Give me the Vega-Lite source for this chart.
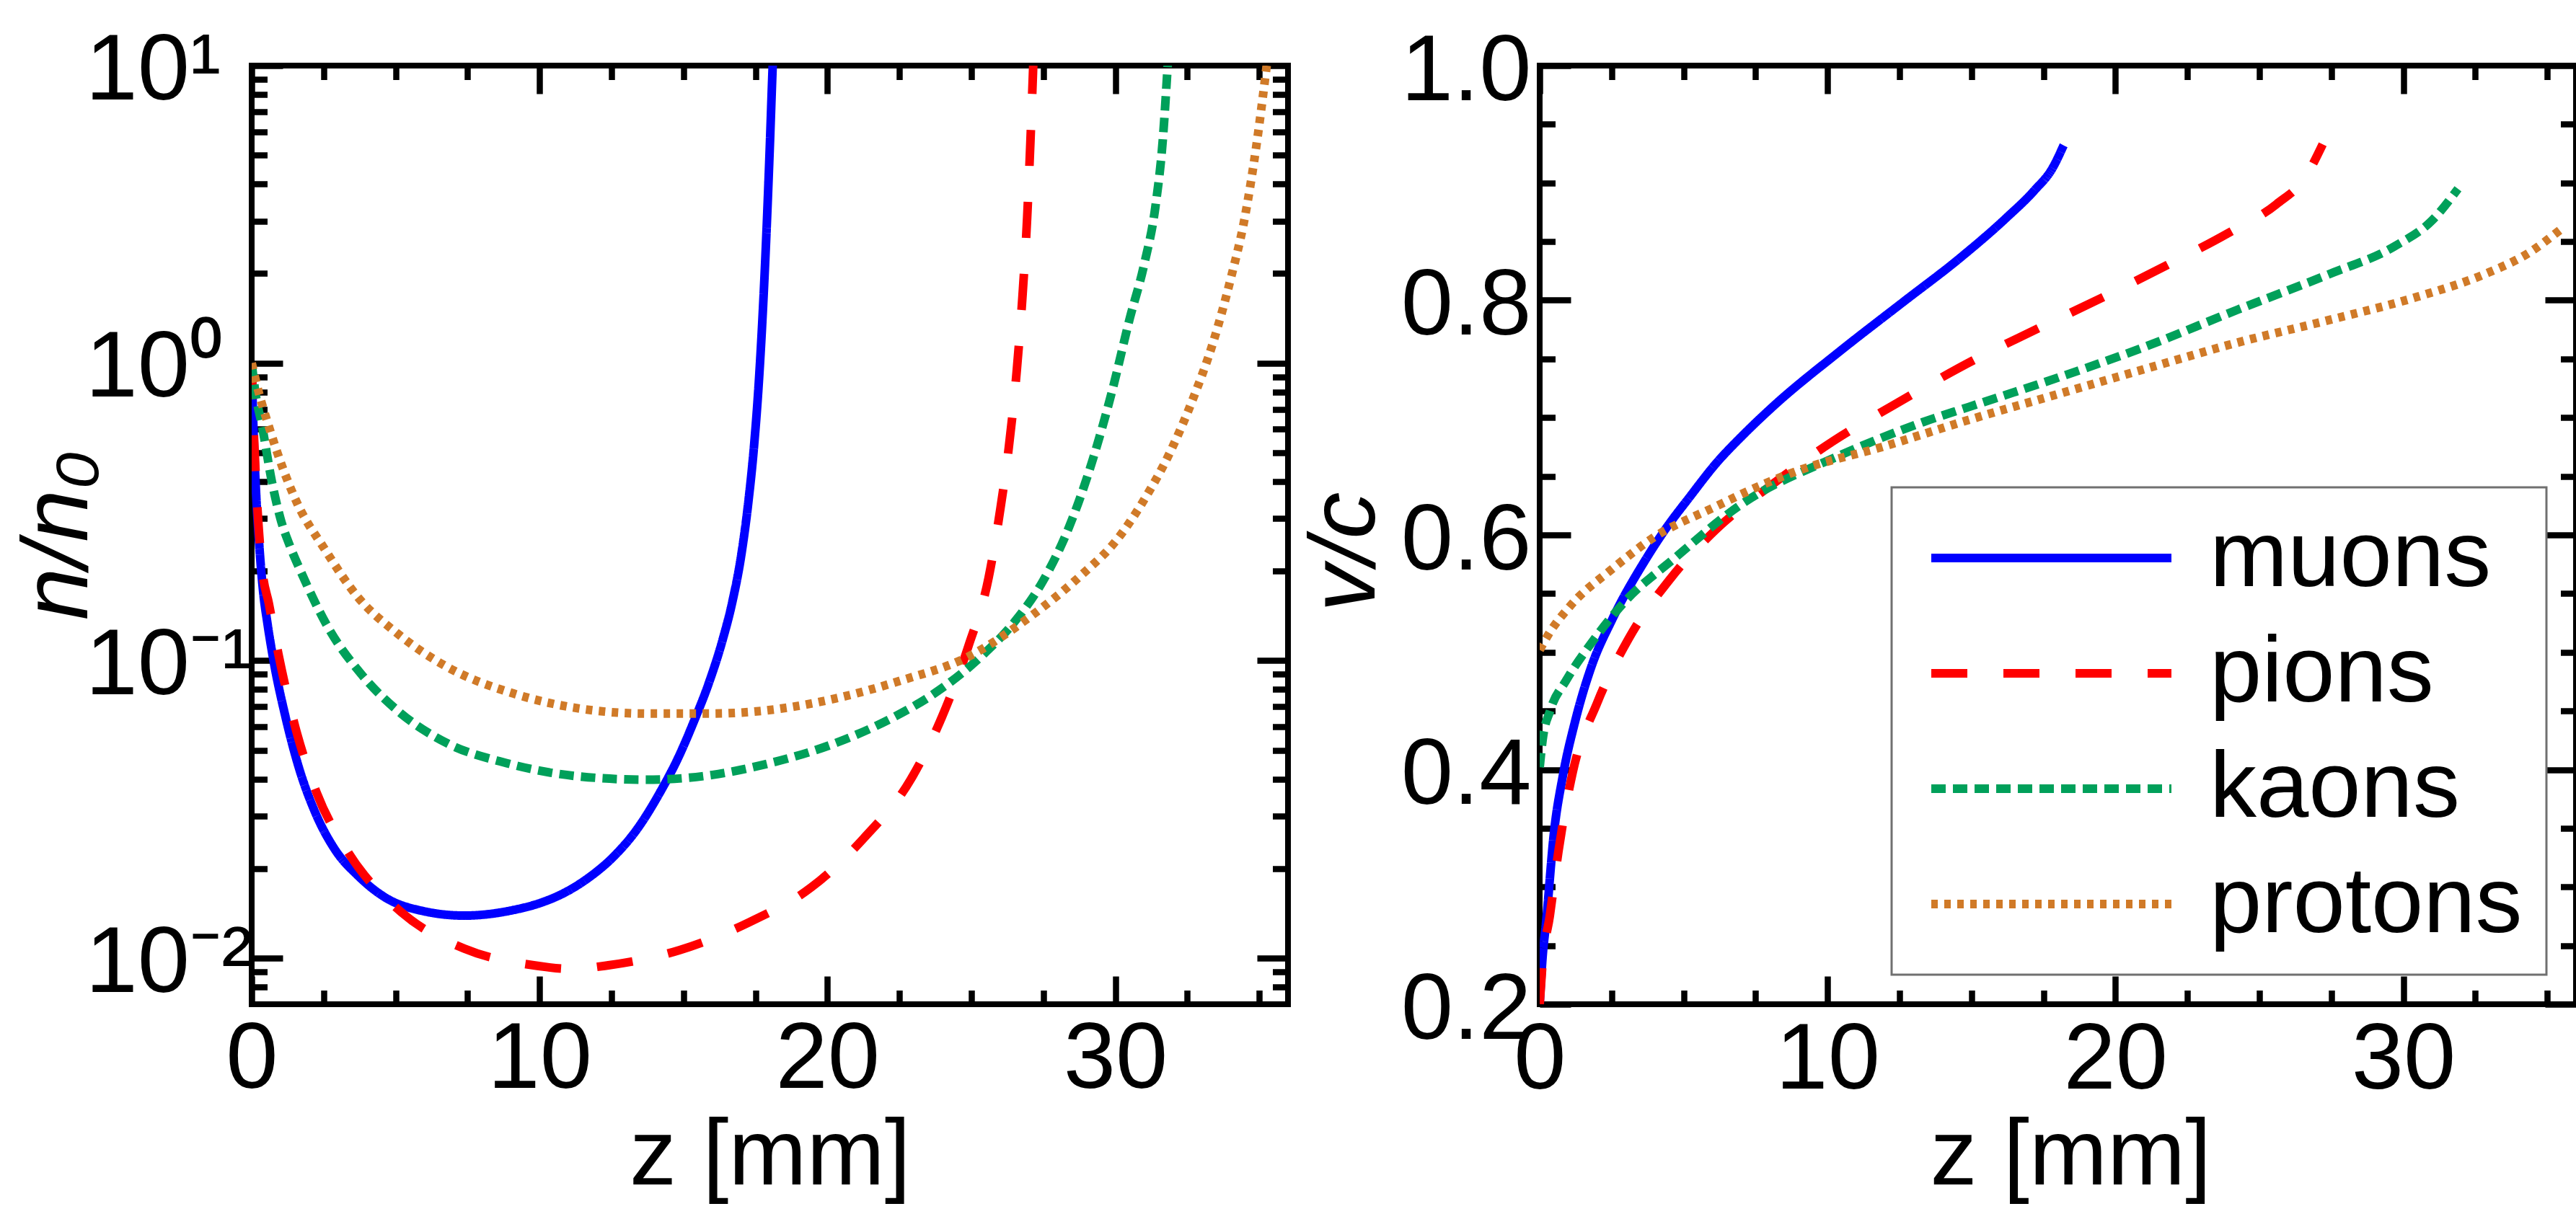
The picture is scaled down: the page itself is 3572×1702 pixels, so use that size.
{
  "$schema": "https://vega.github.io/schema/vega-lite/v6.json",
  "background": "white",
  "padding": {"left": 12, "top": 29, "right": 0, "bottom": 0},
  "datasets": {
    "dens": [
      {"p": "muons", "z": 0, "n": 1.0}, {"p": "muons", "z": 0.05, "n": 0.65}, {"p": "muons", "z": 0.15, "n": 0.37}, {"p": "muons", "z": 0.25, "n": 0.255}, {"p": "muons", "z": 0.4, "n": 0.17}, {"p": "muons", "z": 0.55, "n": 0.133}, {"p": "muons", "z": 0.76, "n": 0.1}, {"p": "muons", "z": 1.17, "n": 0.065}, {"p": "muons", "z": 1.63, "n": 0.044}, {"p": "muons", "z": 2.2, "n": 0.031}, {"p": "muons", "z": 2.89, "n": 0.0232}, {"p": "muons", "z": 3.7, "n": 0.0189}, {"p": "muons", "z": 4.73, "n": 0.0158}, {"p": "muons", "z": 5.88, "n": 0.01445}, {"p": "muons", "z": 7.38, "n": 0.0139}, {"p": "muons", "z": 9.1, "n": 0.01452}, {"p": "muons", "z": 10.0, "n": 0.0153}, {"p": "muons", "z": 10.83, "n": 0.01652}, {"p": "muons", "z": 11.7, "n": 0.01862}, {"p": "muons", "z": 12.56, "n": 0.02188}, {"p": "muons", "z": 13.4, "n": 0.02723}, {"p": "muons", "z": 14.2, "n": 0.0363}, {"p": "muons", "z": 14.8, "n": 0.0468}, {"p": "muons", "z": 15.38, "n": 0.0631}, {"p": "muons", "z": 15.9, "n": 0.0851}, {"p": "muons", "z": 16.36, "n": 0.1175}, {"p": "muons", "z": 16.7, "n": 0.158}, {"p": "muons", "z": 17.0, "n": 0.224}, {"p": "muons", "z": 17.25, "n": 0.339}, {"p": "muons", "z": 17.45, "n": 0.525}, {"p": "muons", "z": 17.62, "n": 0.871}, {"p": "muons", "z": 17.78, "n": 1.66}, {"p": "muons", "z": 17.9, "n": 3.02}, {"p": "muons", "z": 18.0, "n": 5.37}, {"p": "muons", "z": 18.08, "n": 8.91}, {"p": "muons", "z": 18.13, "n": 12.0},
      {"p": "pions", "z": 0, "n": 1.0}, {"p": "pions", "z": 0.05, "n": 0.68}, {"p": "pions", "z": 0.15, "n": 0.4}, {"p": "pions", "z": 0.36, "n": 0.205}, {"p": "pions", "z": 0.6, "n": 0.155}, {"p": "pions", "z": 0.93, "n": 0.105}, {"p": "pions", "z": 1.51, "n": 0.06}, {"p": "pions", "z": 2.26, "n": 0.0359}, {"p": "pions", "z": 3.35, "n": 0.0227}, {"p": "pions", "z": 5.19, "n": 0.0143}, {"p": "pions", "z": 7.38, "n": 0.01077}, {"p": "pions", "z": 9.8, "n": 0.00946}, {"p": "pions", "z": 11.1, "n": 0.0092}, {"p": "pions", "z": 12.39, "n": 0.00946}, {"p": "pions", "z": 14.86, "n": 0.01064}, {"p": "pions", "z": 17.28, "n": 0.0132}, {"p": "pions", "z": 19.44, "n": 0.0173}, {"p": "pions", "z": 21.28, "n": 0.0254}, {"p": "pions", "z": 22.89, "n": 0.0398}, {"p": "pions", "z": 23.98, "n": 0.0647}, {"p": "pions", "z": 24.9, "n": 0.112}, {"p": "pions", "z": 25.6, "n": 0.19}, {"p": "pions", "z": 26.0, "n": 0.32}, {"p": "pions", "z": 26.3, "n": 0.52}, {"p": "pions", "z": 26.58, "n": 0.95}, {"p": "pions", "z": 26.78, "n": 1.7}, {"p": "pions", "z": 26.94, "n": 3.1}, {"p": "pions", "z": 27.05, "n": 5.5}, {"p": "pions", "z": 27.15, "n": 10.0},
      {"p": "kaons", "z": 0, "n": 1.0}, {"p": "kaons", "z": 0.13, "n": 0.794}, {"p": "kaons", "z": 0.36, "n": 0.615}, {"p": "kaons", "z": 0.7, "n": 0.4}, {"p": "kaons", "z": 1.0, "n": 0.3}, {"p": "kaons", "z": 1.35, "n": 0.24}, {"p": "kaons", "z": 1.7, "n": 0.2}, {"p": "kaons", "z": 2.66, "n": 0.129}, {"p": "kaons", "z": 3.81, "n": 0.09}, {"p": "kaons", "z": 5.19, "n": 0.0664}, {"p": "kaons", "z": 6.8, "n": 0.0527}, {"p": "kaons", "z": 8.87, "n": 0.0452}, {"p": "kaons", "z": 11.4, "n": 0.0408}, {"p": "kaons", "z": 13.71, "n": 0.0398}, {"p": "kaons", "z": 16.01, "n": 0.0413}, {"p": "kaons", "z": 17.74, "n": 0.0446}, {"p": "kaons", "z": 20.25, "n": 0.0527}, {"p": "kaons", "z": 22.32, "n": 0.0647}, {"p": "kaons", "z": 23.7, "n": 0.0774}, {"p": "kaons", "z": 25.42, "n": 0.105}, {"p": "kaons", "z": 26.5, "n": 0.135}, {"p": "kaons", "z": 27.5, "n": 0.186}, {"p": "kaons", "z": 28.4, "n": 0.282}, {"p": "kaons", "z": 29.2, "n": 0.468}, {"p": "kaons", "z": 29.9, "n": 0.813}, {"p": "kaons", "z": 30.5, "n": 1.41}, {"p": "kaons", "z": 31.0, "n": 2.14}, {"p": "kaons", "z": 31.4, "n": 3.39}, {"p": "kaons", "z": 31.65, "n": 5.62}, {"p": "kaons", "z": 31.82, "n": 10.0},
      {"p": "protons", "z": 0, "n": 1.0}, {"p": "protons", "z": 0.25, "n": 0.794}, {"p": "protons", "z": 0.59, "n": 0.615}, {"p": "protons", "z": 1.05, "n": 0.452}, {"p": "protons", "z": 1.6, "n": 0.335}, {"p": "protons", "z": 2.5, "n": 0.24}, {"p": "protons", "z": 3.7, "n": 0.163}, {"p": "protons", "z": 5.08, "n": 0.123}, {"p": "protons", "z": 6.8, "n": 0.0951}, {"p": "protons", "z": 9.1, "n": 0.0775}, {"p": "protons", "z": 11.4, "n": 0.069}, {"p": "protons", "z": 13.71, "n": 0.0664}, {"p": "protons", "z": 16.01, "n": 0.0664}, {"p": "protons", "z": 17.85, "n": 0.068}, {"p": "protons", "z": 20.25, "n": 0.0745}, {"p": "protons", "z": 22.55, "n": 0.0857}, {"p": "protons", "z": 24.85, "n": 0.1026}, {"p": "protons", "z": 27.15, "n": 0.143}, {"p": "protons", "z": 28.85, "n": 0.195}, {"p": "protons", "z": 30.0, "n": 0.251}, {"p": "protons", "z": 31.0, "n": 0.347}, {"p": "protons", "z": 31.9, "n": 0.501}, {"p": "protons", "z": 32.7, "n": 0.759}, {"p": "protons", "z": 33.4, "n": 1.175}, {"p": "protons", "z": 34.0, "n": 1.905}, {"p": "protons", "z": 34.5, "n": 3.09}, {"p": "protons", "z": 34.9, "n": 5.37}, {"p": "protons", "z": 35.26, "n": 10.0}
    ],
    "vel": [
      {"p": "muons", "z": 0, "v": 0.2}, {"p": "muons", "z": 0.1, "v": 0.24}, {"p": "muons", "z": 0.22, "v": 0.269}, {"p": "muons", "z": 0.5, "v": 0.347}, {"p": "muons", "z": 0.8, "v": 0.394}, {"p": "muons", "z": 1.23, "v": 0.441}, {"p": "muons", "z": 1.8, "v": 0.488}, {"p": "muons", "z": 2.52, "v": 0.528}, {"p": "muons", "z": 3.68, "v": 0.579}, {"p": "muons", "z": 4.4, "v": 0.606}, {"p": "muons", "z": 5.2, "v": 0.632}, {"p": "muons", "z": 6.13, "v": 0.661}, {"p": "muons", "z": 7.1, "v": 0.686}, {"p": "muons", "z": 8.13, "v": 0.71}, {"p": "muons", "z": 10.45, "v": 0.757}, {"p": "muons", "z": 12.6, "v": 0.798}, {"p": "muons", "z": 14.6, "v": 0.836}, {"p": "muons", "z": 16.2, "v": 0.87}, {"p": "muons", "z": 17.2, "v": 0.894}, {"p": "muons", "z": 17.8, "v": 0.912}, {"p": "muons", "z": 18.2, "v": 0.932},
      {"p": "pions", "z": 0, "v": 0.2}, {"p": "pions", "z": 0.1, "v": 0.235}, {"p": "pions", "z": 0.35, "v": 0.275}, {"p": "pions", "z": 0.65, "v": 0.33}, {"p": "pions", "z": 1.15, "v": 0.398}, {"p": "pions", "z": 2.0, "v": 0.457}, {"p": "pions", "z": 3.1, "v": 0.512}, {"p": "pions", "z": 4.55, "v": 0.563}, {"p": "pions", "z": 6.1, "v": 0.604}, {"p": "pions", "z": 8.13, "v": 0.644}, {"p": "pions", "z": 10.2, "v": 0.68}, {"p": "pions", "z": 12.25, "v": 0.71}, {"p": "pions", "z": 15.0, "v": 0.748}, {"p": "pions", "z": 17.4, "v": 0.777}, {"p": "pions", "z": 19.6, "v": 0.803}, {"p": "pions", "z": 21.8, "v": 0.83}, {"p": "pions", "z": 23.9, "v": 0.857}, {"p": "pions", "z": 25.6, "v": 0.882}, {"p": "pions", "z": 26.6, "v": 0.905}, {"p": "pions", "z": 27.2, "v": 0.933},
      {"p": "kaons", "z": 0, "v": 0.402}, {"p": "kaons", "z": 0.1, "v": 0.425}, {"p": "kaons", "z": 0.36, "v": 0.45}, {"p": "kaons", "z": 0.92, "v": 0.476}, {"p": "kaons", "z": 1.8, "v": 0.508}, {"p": "kaons", "z": 2.95, "v": 0.543}, {"p": "kaons", "z": 4.68, "v": 0.58}, {"p": "kaons", "z": 7.0, "v": 0.626}, {"p": "kaons", "z": 10.45, "v": 0.668}, {"p": "kaons", "z": 13.3, "v": 0.696}, {"p": "kaons", "z": 14.9, "v": 0.709}, {"p": "kaons", "z": 18.0, "v": 0.734}, {"p": "kaons", "z": 21.1, "v": 0.761}, {"p": "kaons", "z": 24.25, "v": 0.792}, {"p": "kaons", "z": 27.4, "v": 0.822}, {"p": "kaons", "z": 29.7, "v": 0.846}, {"p": "kaons", "z": 31.0, "v": 0.868}, {"p": "kaons", "z": 31.9, "v": 0.895},
      {"p": "protons", "z": 0, "v": 0.502}, {"p": "protons", "z": 0.3, "v": 0.515}, {"p": "protons", "z": 1.08, "v": 0.54}, {"p": "protons", "z": 2.52, "v": 0.571}, {"p": "protons", "z": 3.97, "v": 0.598}, {"p": "protons", "z": 6.1, "v": 0.624}, {"p": "protons", "z": 7.57, "v": 0.641}, {"p": "protons", "z": 9.0, "v": 0.655}, {"p": "protons", "z": 11.9, "v": 0.675}, {"p": "protons", "z": 14.9, "v": 0.698}, {"p": "protons", "z": 18.0, "v": 0.72}, {"p": "protons", "z": 21.1, "v": 0.742}, {"p": "protons", "z": 24.25, "v": 0.764}, {"p": "protons", "z": 27.4, "v": 0.783}, {"p": "protons", "z": 30.5, "v": 0.803}, {"p": "protons", "z": 32.8, "v": 0.822}, {"p": "protons", "z": 34.4, "v": 0.841}, {"p": "protons", "z": 35.45, "v": 0.86}
    ]
  },
  "bounds": "flush",
  "spacing": 349,
  "resolve": {
    "scale": {"color": "independent", "strokeDash": "independent"},
    "legend": {"color": "independent", "strokeDash": "independent"}
  },
  "hconcat": [
    {
      "width": 1437,
      "height": 1302,
      "data": {"name": "dens"},
      "resolve": {"axis": {"x": "independent", "y": "independent"}},
      "layer": [
        {
          "mark": {"type": "line", "strokeWidth": 12, "interpolate": "monotone", "clip": true},
          "encoding": {
            "x": {"field": "z", "type": "quantitative", "scale": {"domain": [0, 36], "nice": false, "zero": false},
                  "axis": {"orient": "bottom", "values": [0, 10, 20, 30], "ticks": false, "labelPadding": 115, "labelBaseline": "alphabetic", "title": "z [mm]", "titleBaseline": "alphabetic", "titleX": 718.5, "titleY": 249}},
            "y": {"field": "n", "type": "quantitative", "scale": {"type": "log", "domain": [0.007, 10], "nice": false},
                  "axis": {"orient": "left", "values": [0.01, 0.1, 1, 10], "ticks": false, "labelAlign": "left", "labelPadding": 231, "labelBaseline": "alphabetic", "labelOffset": 46,
                           "labelExpr": "datum.value > 5 ? '10¹' : datum.value > 0.5 ? '10⁰' : datum.value > 0.05 ? '10⁻¹' : '10⁻²'",
                           "title": "n/n₀", "titleFontStyle": "italic", "titleBaseline": "alphabetic", "titleAngle": 270, "titleX": -229, "titleY": 651}},
            "color": {"field": "p", "type": "nominal", "scale": {"domain": ["muons", "pions", "kaons", "protons"], "range": ["#0000FF", "#FF0000", "#00A05A", "#D07A28"]}, "legend": null},
            "strokeDash": {"field": "p", "type": "nominal", "scale": {"domain": ["muons", "pions", "kaons", "protons"], "range": [[1, 0], [50, 50], [20, 10], [9, 9]]}, "legend": null}
          }
        },
        {
          "mark": {"type": "point", "opacity": 0},
          "encoding": {
            "x": {"field": "z", "type": "quantitative", "scale": {"domain": [0, 36], "nice": false, "zero": false},
                  "axis": {"orient": "bottom", "values": [0, 10, 20, 30], "labels": false, "title": null, "tickSize": -39, "tickWidth": 8.5}},
            "y": {"field": "n", "type": "quantitative", "scale": {"type": "log", "domain": [0.007, 10], "nice": false},
                  "axis": {"orient": "left", "values": [0.01, 0.1, 1, 10], "labels": false, "title": null, "tickSize": -43, "tickWidth": 8.5}}
          }
        },
        {
          "mark": {"type": "point", "opacity": 0},
          "encoding": {
            "x": {"field": "z", "type": "quantitative", "scale": {"domain": [0, 36], "nice": false, "zero": false},
                  "axis": {"orient": "bottom", "values": [2.5, 5, 7.5, 12.5, 15, 17.5, 22.5, 25, 27.5, 32.5, 35], "labels": false, "title": null, "tickSize": -19.5, "tickWidth": 8.5}},
            "y": {"field": "n", "type": "quantitative", "scale": {"type": "log", "domain": [0.007, 10], "nice": false},
                  "axis": {"orient": "left", "values": [0.008, 0.009, 0.02, 0.03, 0.04, 0.05, 0.06, 0.07, 0.08, 0.09, 0.2, 0.3, 0.4, 0.5, 0.6, 0.7, 0.8, 0.9, 2, 3, 4, 5, 6, 7, 8, 9], "labels": false, "title": null, "tickSize": -21.5, "tickWidth": 8.5}}
          }
        },
        {
          "mark": {"type": "point", "opacity": 0},
          "encoding": {
            "x": {"field": "z", "type": "quantitative", "scale": {"domain": [0, 36], "nice": false, "zero": false},
                  "axis": {"orient": "top", "values": [0, 10, 20, 30], "labels": false, "title": null, "tickSize": -39, "tickWidth": 8.5}},
            "y": {"field": "n", "type": "quantitative", "scale": {"type": "log", "domain": [0.007, 10], "nice": false},
                  "axis": {"orient": "right", "values": [0.01, 0.1, 1, 10], "labels": false, "title": null, "tickSize": -43, "tickWidth": 8.5}}
          }
        },
        {
          "mark": {"type": "point", "opacity": 0},
          "encoding": {
            "x": {"field": "z", "type": "quantitative", "scale": {"domain": [0, 36], "nice": false, "zero": false},
                  "axis": {"orient": "top", "values": [2.5, 5, 7.5, 12.5, 15, 17.5, 22.5, 25, 27.5, 32.5, 35], "labels": false, "title": null, "tickSize": -19.5, "tickWidth": 8.5}},
            "y": {"field": "n", "type": "quantitative", "scale": {"type": "log", "domain": [0.007, 10], "nice": false},
                  "axis": {"orient": "right", "values": [0.008, 0.009, 0.02, 0.03, 0.04, 0.05, 0.06, 0.07, 0.08, 0.09, 0.2, 0.3, 0.4, 0.5, 0.6, 0.7, 0.8, 0.9, 2, 3, 4, 5, 6, 7, 8, 9], "labels": false, "title": null, "tickSize": -21.5, "tickWidth": 8.5}}
          }
        }
      ]
    },
    {
      "width": 1437,
      "height": 1302,
      "data": {"name": "vel"},
      "resolve": {"axis": {"x": "independent", "y": "independent"}},
      "layer": [
        {
          "mark": {"type": "line", "strokeWidth": 12, "interpolate": "monotone", "clip": true},
          "encoding": {
            "x": {"field": "z", "type": "quantitative", "scale": {"domain": [0, 36], "nice": false, "zero": false},
                  "axis": {"orient": "bottom", "values": [0, 10, 20, 30], "ticks": false, "labelPadding": 116, "labelBaseline": "alphabetic", "title": "z [mm]", "titleBaseline": "alphabetic", "titleX": 736, "titleY": 249}},
            "y": {"field": "v", "type": "quantitative", "scale": {"domain": [0.2, 1.0], "nice": false, "zero": false},
                  "axis": {"orient": "left", "values": [0.2, 0.4, 0.6, 0.8, 1.0], "format": ".1f", "ticks": false, "labelAlign": "right", "labelPadding": 12, "labelBaseline": "alphabetic", "labelOffset": 47,
                           "title": "v/c", "titleFontStyle": "italic", "titleBaseline": "alphabetic", "titleAngle": 270, "titleX": -230, "titleY": 674}},
            "color": {"field": "p", "type": "nominal", "scale": {"domain": ["muons", "pions", "kaons", "protons"], "range": ["#0000FF", "#FF0000", "#00A05A", "#D07A28"]},
                      "legend": {"orient": "bottom-right", "offset": 41, "title": null, "symbolType": "stroke", "symbolSize": 110889, "symbolStrokeWidth": 12, "labelFontSize": 130, "labelFont": "Liberation Sans", "labelColor": "black", "clipHeight": 130, "rowPadding": 30, "labelOffset": 47, "symbolOffset": 16, "padding": 33, "strokeColor": "#707070", "fillColor": "white", "labelLimit": 2000}},
            "strokeDash": {"field": "p", "type": "nominal", "scale": {"domain": ["muons", "pions", "kaons", "protons"], "range": [[1, 0], [50, 50], [20, 10], [9, 9]]},
                      "legend": {"orient": "bottom-right", "offset": 41, "title": null, "symbolType": "stroke", "symbolSize": 110889, "symbolStrokeWidth": 12, "labelFontSize": 130, "labelFont": "Liberation Sans", "labelColor": "black", "clipHeight": 130, "rowPadding": 30, "labelOffset": 47, "symbolOffset": 16, "padding": 33, "strokeColor": "#707070", "fillColor": "white", "labelLimit": 2000}}
          }
        },
        {
          "mark": {"type": "point", "opacity": 0},
          "encoding": {
            "x": {"field": "z", "type": "quantitative", "scale": {"domain": [0, 36], "nice": false, "zero": false},
                  "axis": {"orient": "bottom", "values": [0, 10, 20, 30], "labels": false, "title": null, "tickSize": -39, "tickWidth": 8.5}},
            "y": {"field": "v", "type": "quantitative", "scale": {"domain": [0.2, 1.0], "nice": false, "zero": false},
                  "axis": {"orient": "left", "values": [0.2, 0.4, 0.6, 0.8, 1.0], "labels": false, "title": null, "tickSize": -43, "tickWidth": 8.5}}
          }
        },
        {
          "mark": {"type": "point", "opacity": 0},
          "encoding": {
            "x": {"field": "z", "type": "quantitative", "scale": {"domain": [0, 36], "nice": false, "zero": false},
                  "axis": {"orient": "bottom", "values": [2.5, 5, 7.5, 12.5, 15, 17.5, 22.5, 25, 27.5, 32.5, 35], "labels": false, "title": null, "tickSize": -19.5, "tickWidth": 8.5}},
            "y": {"field": "v", "type": "quantitative", "scale": {"domain": [0.2, 1.0], "nice": false, "zero": false},
                  "axis": {"orient": "left", "values": [0.25, 0.3, 0.35, 0.45, 0.5, 0.55, 0.65, 0.7, 0.75, 0.85, 0.9, 0.95], "labels": false, "title": null, "tickSize": -21.5, "tickWidth": 8.5}}
          }
        },
        {
          "mark": {"type": "point", "opacity": 0},
          "encoding": {
            "x": {"field": "z", "type": "quantitative", "scale": {"domain": [0, 36], "nice": false, "zero": false},
                  "axis": {"orient": "top", "values": [0, 10, 20, 30], "labels": false, "title": null, "tickSize": -39, "tickWidth": 8.5}},
            "y": {"field": "v", "type": "quantitative", "scale": {"domain": [0.2, 1.0], "nice": false, "zero": false},
                  "axis": {"orient": "right", "values": [0.2, 0.4, 0.6, 0.8, 1.0], "labels": false, "title": null, "tickSize": -43, "tickWidth": 8.5}}
          }
        },
        {
          "mark": {"type": "point", "opacity": 0},
          "encoding": {
            "x": {"field": "z", "type": "quantitative", "scale": {"domain": [0, 36], "nice": false, "zero": false},
                  "axis": {"orient": "top", "values": [2.5, 5, 7.5, 12.5, 15, 17.5, 22.5, 25, 27.5, 32.5, 35], "labels": false, "title": null, "tickSize": -19.5, "tickWidth": 8.5}},
            "y": {"field": "v", "type": "quantitative", "scale": {"domain": [0.2, 1.0], "nice": false, "zero": false},
                  "axis": {"orient": "right", "values": [0.25, 0.3, 0.35, 0.45, 0.5, 0.55, 0.65, 0.7, 0.75, 0.85, 0.9, 0.95], "labels": false, "title": null, "tickSize": -21.5, "tickWidth": 8.5}}
          }
        }
      ]
    }
  ],
  "config": {
    "font": "Liberation Sans",
    "view": {"stroke": "black", "strokeWidth": 8},
    "axis": {"grid": false, "domain": false, "labelFontSize": 130, "titleFontSize": 130, "labelColor": "black", "titleColor": "black", "tickColor": "black", "tickWidth": 8.5, "labelFont": "Liberation Sans", "titleFont": "Liberation Sans", "titleFontWeight": "normal", "labelFlush": false, "labelOverlap": false, "labelBound": false, "labelLimit": 2000, "titleLimit": 2000, "tickCap": "butt"},
    "legend": {"strokeWidth": 3, "labelFontSize": 130, "labelFont": "Liberation Sans"}
  }
}
